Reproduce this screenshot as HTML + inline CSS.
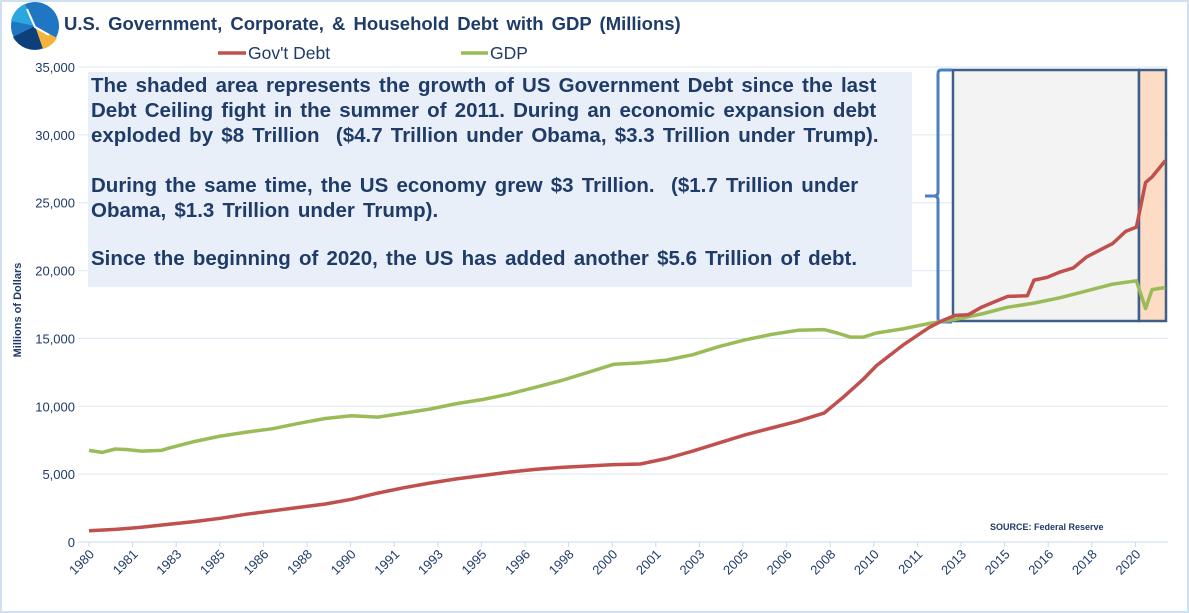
<!DOCTYPE html>
<html><head><meta charset="utf-8"><style>
body{margin:0;background:#fff;font-family:"Liberation Sans",sans-serif;}
#wrap{position:relative;width:1189px;height:613px;overflow:hidden;}
</style></head><body>
<div id="wrap">
<svg id="svg" width="1189" height="613" xmlns="http://www.w3.org/2000/svg">
<rect x="1" y="1" width="1187" height="611" fill="#fff" stroke="#cfe0f0" stroke-width="2"/>
<g>
<circle cx="35" cy="26" r="24" fill="#1f77c4"/>
<path d="M35 26 L11 21 A24 24 0 0 1 25 4 Z" fill="#2aa7e0"/>
<path d="M35 26 L43 48 A24 24 0 0 1 13 37 Z" fill="#0d3f7a"/>
<path d="M35 26 L57 38 A24 24 0 0 1 43 49 Z" fill="#f6b33c"/>
<path d="M27 9 L35 27 L49 35" stroke="#fff" stroke-width="2" fill="none"/>
</g>
<text x="64" y="30" font-size="18.5" font-weight="bold" fill="#1f3b68" word-spacing="3">U.S. Government, Corporate, &amp; Household Debt with GDP (Millions)</text>
<g>
<line x1="218" y1="53" x2="246" y2="53" stroke="#c0504d" stroke-width="3.5"/>
<text x="248" y="59" font-size="17.5" fill="#1f3b68">Gov't Debt</text>
<line x1="461" y1="53" x2="488" y2="53" stroke="#9bbb59" stroke-width="3.5"/>
<text x="490" y="59" font-size="17.5" fill="#1f3b68">GDP</text>
</g>
<text transform="translate(21,310) rotate(-90)" text-anchor="middle" font-size="11" font-weight="bold" fill="#1f3b68">Millions of Dollars</text>
<g id="grid"></g>
<g id="shapes"></g>
<g id="series"></g>
<g id="xlabels"></g>
<text x="990" y="530" font-size="9" font-weight="bold" fill="#1f3b68">SOURCE:  Federal Reserve</text>
</svg>
<div style="position:absolute;left:88px;top:72px;width:824px;height:215px;background:#e9eff8;color:#1f3b68;font-weight:bold;font-size:20.5px;line-height:25px;padding:0 0 0 3px;box-sizing:border-box;white-space:nowrap;word-spacing:2.5px;">
<div style="padding-top:1px">The shaded area represents the growth of US Government Debt since the last<br>Debt Ceiling fight in the summer of 2011. During an economic expansion debt<br>exploded by $8 Trillion &nbsp;($4.7 Trillion under Obama, $3.3 Trillion under Trump).</div>
<div style="margin-top:25px">During the same time, the US economy grew $3 Trillion. &nbsp;($1.7 Trillion under<br>Obama, $1.3 Trillion under Trump).</div>
<div style="margin-top:23px">Since the beginning of 2020, the US has added another $5.6 Trillion of debt.</div>
</div>
</div>
<script>
const yTicks=[0,5000,10000,15000,20000,25000,30000,35000];
const xTickLabels=["1980","1981","1983","1985","1986","1988","1990","1991","1993","1995","1996","1998","2000","2001","2003","2005","2006","2008","2010","2011","2013","2015","2016","2018","2020"];
const debtYears=[1980,1981,1982,1983,1984,1985,1986,1987,1988,1989,1990,1991,1992,1993,1994,1995,1996,1997,1998,1999,2000,2001,2002,2003,2004,2005,2006,2007,2008,2008.75,2009.5,2010,2011,2012,2012.5,2013,2013.5,2014,2014.5,2015,2015.75,2016,2016.5,2017,2017.5,2018,2018.5,2019,2019.5,2019.9,2020.25,2020.5,2021];
const debtValues=[830,930,1080,1300,1500,1750,2050,2300,2550,2800,3150,3600,4000,4350,4650,4900,5150,5350,5500,5600,5700,5750,6150,6700,7300,7900,8400,8900,9500,10700,12000,13000,14500,15800,16300,16700,16750,17300,17700,18100,18150,19300,19500,19900,20200,21000,21500,22000,22900,23200,26500,26900,28100];
const gdpYears=[1980,1980.5,1981,1981.5,1982,1982.75,1983,1984,1985,1986,1987,1988,1989,1990,1991,1992,1993,1994,1995,1996,1997,1998,1999,2000,2001,2002,2003,2004,2005,2006,2007,2008,2008.5,2009,2009.5,2010,2011,2012,2013,2014,2015,2016,2017,2018,2019,2019.9,2020.25,2020.5,2021];
const gdpValues=[6750,6600,6850,6800,6700,6750,6900,7400,7800,8100,8350,8750,9100,9300,9200,9500,9800,10200,10500,10900,11400,11900,12500,13100,13200,13400,13800,14400,14900,15300,15600,15650,15400,15100,15100,15400,15700,16100,16400,16800,17300,17600,18000,18500,19000,19250,17200,18600,18750];
const X0=89,X1=1139,Y0=542,Y1=67;
const xs=y=>X0+(y-1980)*(X1-X0)/40;
const ys=v=>Y0-(v/35000)*(Y0-Y1);
const NS="http://www.w3.org/2000/svg";
function mk(tag,attrs,parent){const e=document.createElementNS(NS,tag);for(const k in attrs)e.setAttribute(k,attrs[k]);parent.appendChild(e);return e;}
const grid=document.getElementById('grid');
yTicks.forEach(t=>{
 const l=mk('line',{x1:78,x2:1168,y1:ys(t),y2:ys(t),stroke:t===0?'#c9d9ec':'#dde7f3','stroke-width':1},grid);
 
 
 const tx=mk('text',{x:75,y:ys(t)+5,'text-anchor':'end','font-size':13,fill:'#1f3b68'},grid);
 tx.textContent=t.toLocaleString('en-US');
 
 
});
const xl=document.getElementById('xlabels');
xTickLabels.forEach((lab,i)=>{
 const x=X0+i*43.6;
 const tk=mk('line',{x1:x,x2:x,y1:Y0,y2:Y0+5,stroke:'#c9d9ec'},xl);
 
 
 const t=mk('text',{transform:`translate(${x+6},${Y0+13}) rotate(-45)`,'text-anchor':'end','font-size':13,fill:'#1f3b68'},xl);
 t.textContent=lab;
 
 
});
const sh=document.getElementById('shapes');
const r1=mk('rect',{x:953,y:70,width:186,height:251,fill:'#f3f3f3',stroke:'#3e5f8a','stroke-width':2.5},sh);


const r2=mk('rect',{x:1139,y:70,width:27,height:251,fill:'#fcdcc4',stroke:'#3e5f8a','stroke-width':2.5},sh);


const br=mk('path',{d:'M952 70 L941 70 Q938 70 938 74 L938 192 Q938 196 934 196 L925 196 M934 196 Q938 196 938 200 L938 318 Q938 322 941 322 L952 322',fill:'none',stroke:'#4a7fc0','stroke-width':3},sh);


const se=document.getElementById('series');
function line(xsArr,vals,color,name){
 const d=xsArr.map((y,i)=>(i?'L':'M')+xs(y).toFixed(1)+' '+ys(vals[i]).toFixed(1)).join(' ');
 const p=mk('path',{d:d,fill:'none',stroke:color,'stroke-width':3.5,'stroke-linejoin':'round'},se);
 
 
}
line(gdpYears,gdpValues,'#9bbb59','gdp-line');
line(debtYears,debtValues,'#c0504d','govt-debt-line');
</script>
</body></html>
